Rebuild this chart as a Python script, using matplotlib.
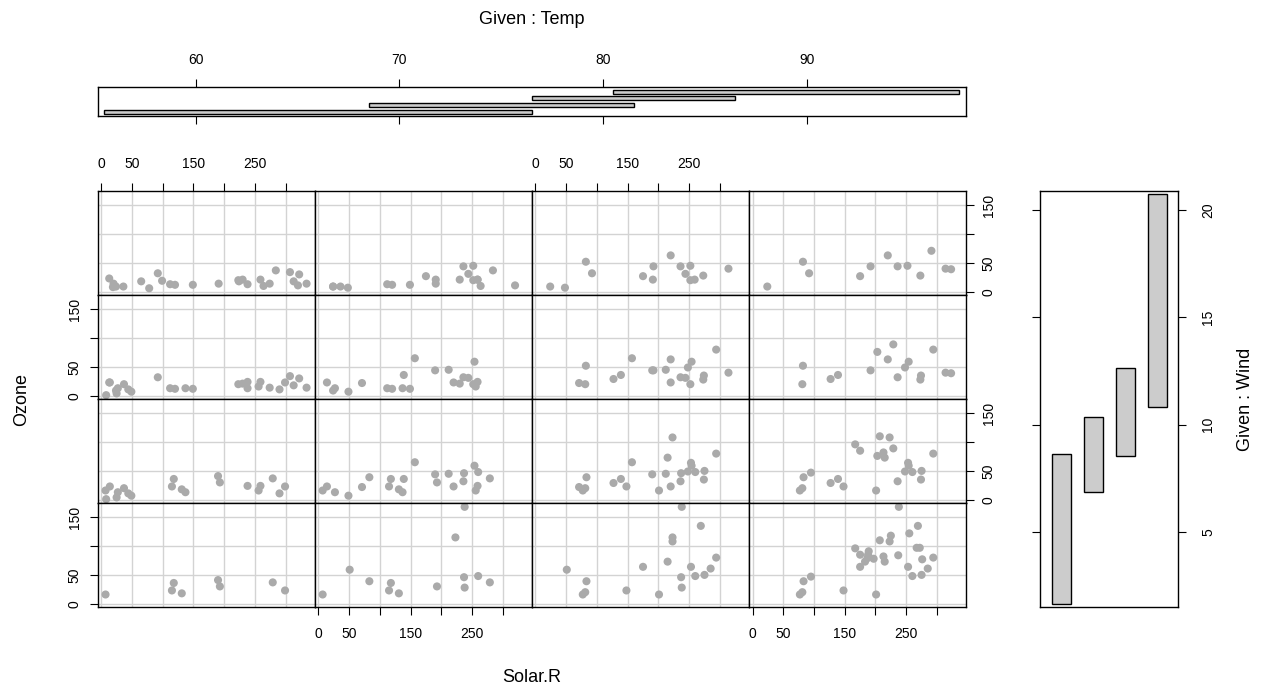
import numpy as np
import matplotlib
matplotlib.use("Agg")
import matplotlib.pyplot as plt
from matplotlib.patches import Rectangle

plt.rcParams["font.family"] = ["Liberation Sans", "DejaVu Sans"]

nan = np.nan

# New York air quality measurements, May to September 1973
ozone = [41, 36, 12, 18, nan, 28, 23, 19, 8, nan,
         7, 16, 11, 14, 18, 14, 34, 6, 30, 11,
         1, 11, 4, 32, nan, nan, nan, 23, 45, 115,
         37, nan, nan, nan, nan, nan, nan, 29, nan, 71,
         39, nan, nan, 23, nan, nan, 21, 37, 20, 12,
         13, nan, nan, nan, nan, nan, nan, nan, nan, nan,
         nan, 135, 49, 32, nan, 64, 40, 77, 97, 97,
         85, nan, 10, 27, nan, 7, 48, 35, 61, 79,
         63, 16, nan, nan, 80, 108, 20, 52, 82, 50,
         64, 59, 39, 9, 16, 78, 35, 66, 122, 89,
         110, nan, nan, 44, 28, 65, nan, 22, 59, 23,
         31, 44, 21, 9, nan, 45, 168, 73, nan, 76,
         118, 84, 85, 96, 78, 73, 91, 47, 32, 20,
         23, 21, 24, 44, 21, 28, 9, 13, 46, 18,
         13, 24, 16, 13, 23, 36, 7, 14, 30, nan,
         14, 18, 20]

solar_r = [190, 118, 149, 313, nan, nan, 299, 99, 19, 194,
           nan, 256, 290, 274, 65, 334, 307, 78, 322, 44,
           8, 320, 25, 92, 66, 266, nan, 13, 252, 223,
           279, 286, 287, 242, 186, 220, 264, 127, 273, 291,
           323, 259, 250, 148, 332, 322, 191, 284, 37, 120,
           137, 150, 59, 91, 250, 135, 127, 47, 98, 31,
           138, 269, 248, 236, 101, 175, 314, 276, 267, 272,
           175, 139, 264, 175, 291, 48, 260, 274, 285, 187,
           220, 7, 258, 295, 294, 223, 81, 82, 213, 275,
           253, 254, 83, 24, 77, nan, nan, nan, 255, 229,
           207, 222, 137, 192, 273, 157, 64, 71, 51, 115,
           244, 190, 259, 36, 255, 212, 238, 215, 153, 203,
           225, 237, 188, 167, 197, 183, 189, 95, 92, 252,
           220, 230, 259, 236, 259, 238, 24, 112, 237, 224,
           27, 238, 201, 238, 14, 139, 49, 20, 193, 145,
           191, 131, 223]

wind = [7.4, 8.0, 12.6, 11.5, 14.3, 14.9, 8.6, 13.8, 20.1, 8.6,
        6.9, 9.7, 9.2, 10.9, 13.2, 11.5, 12.0, 18.4, 11.5, 9.7,
        9.7, 16.6, 9.7, 12.0, 16.6, 14.9, 8.0, 12.0, 14.9, 5.7,
        7.4, 8.6, 9.7, 16.1, 9.2, 8.6, 14.3, 9.7, 6.9, 13.8,
        11.5, 10.9, 9.2, 8.0, 13.8, 11.5, 14.9, 20.7, 9.2, 11.5,
        10.3, 6.3, 1.7, 4.6, 6.3, 8.0, 8.0, 10.3, 11.5, 14.9,
        8.0, 4.1, 9.2, 9.2, 10.9, 4.6, 10.9, 5.1, 6.3, 5.7,
        7.4, 8.6, 14.3, 14.9, 14.9, 14.3, 6.9, 10.3, 6.3, 5.1,
        11.5, 6.9, 9.7, 11.5, 8.6, 8.0, 8.6, 12.0, 7.4, 7.4,
        7.4, 9.2, 6.9, 13.8, 7.4, 6.9, 7.4, 4.6, 4.0, 10.3,
        8.0, 8.6, 11.5, 11.5, 11.5, 9.7, 11.5, 10.3, 6.3, 7.4,
        10.9, 10.3, 15.5, 14.3, 12.6, 9.7, 3.4, 8.0, 5.7, 9.7,
        2.3, 6.3, 6.3, 6.9, 5.1, 2.8, 4.6, 7.4, 15.5, 10.9,
        10.3, 10.9, 9.7, 14.9, 15.5, 6.3, 10.9, 11.5, 6.9, 13.8,
        10.3, 10.3, 8.0, 12.6, 9.2, 10.3, 10.3, 16.6, 6.9, 13.2,
        14.3, 8.0, 11.5]

temp = [67, 72, 74, 62, 56, 66, 65, 59, 61, 69,
        74, 69, 66, 68, 58, 64, 66, 57, 68, 62,
        59, 73, 61, 61, 57, 58, 57, 67, 81, 79,
        76, 78, 74, 67, 84, 85, 79, 82, 87, 90,
        87, 93, 92, 82, 80, 79, 77, 72, 65, 73,
        76, 77, 76, 76, 76, 75, 78, 73, 80, 77,
        83, 84, 85, 81, 84, 83, 83, 88, 92, 92,
        89, 82, 73, 81, 91, 80, 81, 82, 84, 87,
        85, 74, 81, 82, 86, 85, 82, 86, 88, 86,
        83, 81, 81, 81, 82, 86, 85, 87, 89, 90,
        90, 92, 86, 86, 82, 80, 79, 77, 79, 76,
        78, 78, 77, 72, 75, 79, 81, 86, 88, 97,
        94, 96, 94, 91, 92, 93, 93, 87, 84, 80,
        78, 75, 73, 81, 76, 77, 71, 71, 78, 67,
        76, 68, 82, 64, 71, 81, 69, 63, 70, 77,
        75, 76, 68]

x_ticks = [0, 50, 100, 150, 200, 250, 300]
x_tick_labels = ["0", "50", "", "150", "", "250", ""]
y_ticks = [0, 50, 100, 150]
y_tick_labels = ["0", "50", "", "150"]
temp_ticks = [60, 70, 80, 90]
wind_ticks = [5, 10, 15, 20]

ozone = np.array(ozone, float)
solar_r = np.array(solar_r, float)
wind = np.array(wind, float)
temp = np.array(temp, float)


def co_intervals(values, number=4, overlap=0.5):
    """Overlapping conditioning intervals, each holding about the same count."""
    v = np.sort(values[~np.isnan(values)])
    n = len(v)
    r = n / (number * (1 - overlap) + overlap)
    ii = np.arange(number) * (1 - overlap) * r
    lo = v[np.round(1 + ii).astype(int) - 1]
    hi = v[np.round(r + ii).astype(int) - 1]
    jumps = np.diff(v)
    eps = 0.5 * jumps[jumps > 1e-9].min()
    return np.column_stack([lo - eps, hi + eps])


def padded(lo, hi, frac=0.04):
    d = hi - lo
    return lo - frac * d, hi + frac * d


def given_range(intervals):
    lo, hi = intervals.min(), intervals.max()
    d = hi - lo
    return padded(lo + 0.03 * d, hi - 0.03 * d)


temp_int = co_intervals(temp)
wind_int = co_intervals(wind)

W, H = 1264, 691
fig = plt.figure(figsize=(W / 100, H / 100), dpi=100)


def px_axes(x0, y0, w, h):
    return fig.add_axes([x0 / W, 1 - (y0 + h) / H, w / W, h / H])


# pixel layout
left, top = 97.5, 191.0
cell_w, cell_h = 217.1, 104.0
ncol, nrow = len(temp_int), len(wind_int)
block_r = left + ncol * cell_w
block_b = top + nrow * cell_h

xlim = padded(np.nanmin(solar_r), np.nanmax(solar_r))
ylim = padded(np.nanmin(ozone), np.nanmax(ozone))

grid_col = "#D3D3D3"
pt_col = "#AAAAAA"
tick_kw = dict(direction="out", length=5.5, width=0.8, labelsize=10, colors="black")
spine_lw = 1.0

for r in range(nrow):
    j = nrow - 1 - r
    for c in range(ncol):
        ax = px_axes(left + c * cell_w, top + r * cell_h, cell_w, cell_h)
        ax.set_xlim(*xlim)
        ax.set_ylim(*ylim)
        for gx in x_ticks:
            ax.axvline(gx, color=grid_col, lw=1.0, zorder=0)
        for gy in y_ticks:
            ax.axhline(gy, color=grid_col, lw=1.0, zorder=0)
        sel = ((temp >= temp_int[c, 0]) & (temp <= temp_int[c, 1]) &
               (wind >= wind_int[j, 0]) & (wind <= wind_int[j, 1]))
        ax.scatter(solar_r[sel], ozone[sel], s=34, color=pt_col,
                   edgecolors="none", zorder=2, clip_on=False)
        for sp in ax.spines.values():
            sp.set_linewidth(spine_lw)

        ax.set_xticks(x_ticks)
        ax.set_xticklabels(x_tick_labels)
        ax.set_yticks(y_ticks)
        ax.set_yticklabels(y_tick_labels)
        ax.tick_params(axis="x", pad=9, **tick_kw)
        ax.tick_params(axis="y", pad=6, **tick_kw)
        show_top = (r == 0 and c % 2 == 0)
        show_bottom = (r == nrow - 1 and c % 2 == 1)
        show_left = (c == 0 and r % 2 == 1)
        show_right = (c == ncol - 1 and r % 2 == 0)
        ax.tick_params(axis="x", top=show_top, labeltop=show_top,
                       bottom=show_bottom, labelbottom=show_bottom)
        ax.tick_params(axis="y", left=show_left, labelleft=show_left,
                       right=show_right, labelright=show_right)
        for t in ax.yaxis.get_major_ticks():
            t.label1.set_rotation(90)
            t.label1.set_va("center")
            t.label2.set_rotation(90)
            t.label2.set_va("center")

# conditioning panel for Temp
axT = px_axes(left, 87.3, block_r - left, 116.0 - 87.3)
axT.set_xlim(*given_range(temp_int))
axT.set_ylim(*padded(0.5, ncol + 0.5))
for k, (lo, hi) in enumerate(temp_int):
    axT.add_patch(Rectangle((lo, k + 1 - 0.3), hi - lo, 0.6,
                            facecolor="#CCCCCC", edgecolor="black", lw=1.0))
axT.set_xticks(temp_ticks)
axT.set_yticks([])
axT.tick_params(axis="x", pad=9, top=True, labeltop=True, bottom=True,
                labelbottom=False, **tick_kw)
for sp in axT.spines.values():
    sp.set_linewidth(spine_lw)

# conditioning panel for Wind
axW = px_axes(1040.4, top, 138.0, block_b - top)
axW.set_ylim(*given_range(wind_int))
axW.set_xlim(*padded(0.5, nrow + 0.5))
for k, (lo, hi) in enumerate(wind_int):
    axW.add_patch(Rectangle((k + 1 - 0.3, lo), 0.6, hi - lo,
                            facecolor="#CCCCCC", edgecolor="black", lw=1.0))
axW.set_yticks(wind_ticks)
axW.set_xticks([])
axW.tick_params(axis="y", pad=11, left=True, labelleft=False, right=True,
                labelright=True, **tick_kw)
for t in axW.yaxis.get_major_ticks():
    t.label2.set_rotation(90)
    t.label2.set_va("center")
for sp in axW.spines.values():
    sp.set_linewidth(spine_lw)

mid_x = (left + block_r) / 2
mid_y = (top + block_b) / 2
fig.text(mid_x / W, 1 - 20 / H, "Given : Temp", ha="center", va="center", fontsize=13)
fig.text(mid_x / W, 1 - 678 / H, "Solar.R", ha="center", va="center", fontsize=13)
fig.text(22 / W, 1 - mid_y / H, "Ozone", ha="center", va="center", rotation=90, fontsize=13)
fig.text(1246 / W, 1 - mid_y / H, "Given : Wind", ha="center", va="center", rotation=90, fontsize=13)

fig.savefig("out.png", dpi=100, facecolor="white")
